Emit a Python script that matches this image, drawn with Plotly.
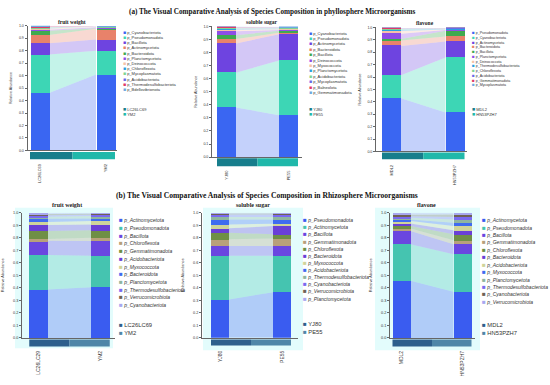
import plotly.graph_objects as go
import numpy as np

W, H = 550, 385

# ================= DATA =================
# (a) phyllosphere
a_fw_taxa = ["p_Cyanobacteriota", "p_Pseudomonadota", "p_Bacillota", "p_Actinomycetota",
             "p_Bacteroidota", "p_Planctomycetota", "p_Deinococcota", "p_Chloroflexota",
             "p_Mycoplasmatota", "p_Acidobacteriota", "p_Thermodesulfobacteriota", "p_Bdellovibrionota"]
a_fw_groups = ["LC26LC69", "YM2"]
a_fw_ticks = ["LC26LC69", "YM2"]
a_fw_left = [0.46, 0.31, 0.09, 0.065, 0.035, 0.008, 0.01, 0.004, 0.006, 0.003, 0.008, 0.002]
a_fw_right = [0.61, 0.19, 0.09, 0.085, 0.005, 0.008, 0.002, 0.001, 0.001, 0.002, 0.002, 0.001]

a_ss_taxa = ["p_Cyanobacteriota", "p_Pseudomonadota", "p_Actinomycetota", "p_Bacteroidota",
             "p_Bacillota", "p_Deinococcota", "p_Myxococcota", "p_Planctomycetota",
             "p_Acidobacteriota", "p_Mycoplasmatota", "p_Balneolota", "p_Gemmatimonadota"]
a_ss_groups = ["YJ80", "PE55"]
a_ss_ticks = ["YJ80", "PE55"]
a_ss_left = [0.38, 0.265, 0.225, 0.033, 0.03, 0.03, 0.012, 0.006, 0.006, 0.004, 0.004, 0.004]
a_ss_right = [0.32, 0.42, 0.2, 0.012, 0.015, 0.006, 0.006, 0.004, 0.004, 0.003, 0.002, 0.005]

a_fl_taxa = ["p_Pseudomonadota", "p_Cyanobacteriota", "p_Actinomycetota", "p_Bacteroidota",
             "p_Bacillota", "p_Planctomycetota", "p_Deinococcota", "p_Thermodesulfobacteriota",
             "p_Chloroflexota", "p_Acidobacteriota", "p_Gemmatimonadota", "p_Mycoplasmatota"]
a_fl_groups = ["MDL2", "HN53PZH7"]
a_fl_ticks = ["MDL2", "HN53PZH7"]
a_fl_left = [0.428, 0.186, 0.237, 0.043, 0.013, 0.042, 0.022, 0.012, 0.004, 0.003, 0.002, 0.003]
a_fl_right = [0.314, 0.444, 0.128, 0.04, 0.047, 0.006, 0.004, 0.004, 0.003, 0.002, 0.002, 0.002]

# (b) rhizosphere
b_fw_taxa = ["p_Actinomycetota", "p_Pseudomonadota", "p_Bacillota", "p_Chloroflexota",
             "p_Gemmatimonadota", "p_Acidobacteriota", "p_Myxococcota", "p_Bacteroidota",
             "p_Planctomycetota", "p_Thermodesulfobacteriota", "p_Verrucomicrobiota", "p_Cyanobacteriota"]
b_fw_groups = ["LC26LC69", "YM2"]
b_fw_ticks = ["LC26LC29", "YM2"]
b_fw_left = [0.387, 0.276, 0.113, 0.014, 0.065, 0.048, 0.023, 0.027, 0.015, 0.012, 0.01, 0.01]
b_fw_right = [0.405, 0.251, 0.119, 0.025, 0.06, 0.047, 0.027, 0.021, 0.019, 0.01, 0.008, 0.008]

b_ss_taxa = ["p_Pseudomonadota", "p_Actinomycetota", "p_Bacillota", "p_Gemmatimonadota",
             "p_Chloroflexota", "p_Bacteroidota", "p_Myxococcota", "p_Acidobacteriota",
             "p_Thermodesulfobacteriota", "p_Cyanobacteriota", "p_Verrucomicrobiota", "p_Planctomycetota"]
b_ss_groups = ["YJ80", "PE55"]
b_ss_ticks = ["YJ80", "PE55"]
b_ss_left = [0.307, 0.349, 0.079, 0.053, 0.053, 0.035, 0.031, 0.04, 0.019, 0.021, 0.007, 0.006]
b_ss_right = [0.365, 0.291, 0.079, 0.059, 0.034, 0.066, 0.019, 0.034, 0.019, 0.021, 0.007, 0.006]

b_fl_taxa = ["p_Actinomycetota", "p_Pseudomonadota", "p_Bacillota", "p_Gemmatimonadota",
             "p_Chloroflexota", "p_Bacteroidota", "p_Acidobacteriota", "p_Myxococcota",
             "p_Planctomycetota", "p_Thermodesulfobacteriota", "p_Cyanobacteriota", "p_Verrucomicrobiota"]
b_fl_groups = ["MDL2", "HN53PZH7"]
b_fl_ticks = ["MDL2", "HN53PZH7"]
b_fl_left = [0.458, 0.291, 0.105, 0.02, 0.02, 0.02, 0.02, 0.012, 0.014, 0.013, 0.012, 0.015]
b_fl_right = [0.37, 0.299, 0.08, 0.031, 0.048, 0.032, 0.034, 0.027, 0.026, 0.019, 0.021, 0.013]

titles_a = ["fruit weight", "soluble sugar", "flavone"]
titles_b = ["fruit weight", "soluble sugar", "flavone"]
main_title_a = "(a) The Visual Comparative Analysis of Species Composition in phyllosphere Microorganisms"
main_title_b = "(b) The Visual Comparative Analysis of Species Composition in Rhizosphere Microorganisms"

# ================= STYLE =================
colors_a = ["#3a66f2", "#3dd6b5", "#6e44e0", "#e8826a", "#3faa4f", "#8e4ee6",
            "#f5c2a8", "#2a9fe0", "#7ed493", "#6a6ae8", "#e03a6a", "#6fa8e0"]
colors_b = ["#3a5cf0", "#45c4b0", "#6a46e0", "#b8a07a", "#6f8f45", "#6a3fd6",
            "#cfd49a", "#3f6bf0", "#8fb5a0", "#7a6af0", "#6f6255", "#a8a8f0"]
group_colors_a = ["#177e8c", "#20b8aa"]
group_colors_b = ["#2e5f8c", "#4f86a8"]

datasets = [
    dict(taxa=a_fw_taxa, groups=a_fw_groups, ticks=a_fw_ticks, left=a_fw_left, right=a_fw_right, title=titles_a[0]),
    dict(taxa=a_ss_taxa, groups=a_ss_groups, ticks=a_ss_ticks, left=a_ss_left, right=a_ss_right, title=titles_a[1]),
    dict(taxa=a_fl_taxa, groups=a_fl_groups, ticks=a_fl_ticks, left=a_fl_left, right=a_fl_right, title=titles_a[2]),
    dict(taxa=b_fw_taxa, groups=b_fw_groups, ticks=b_fw_ticks, left=b_fw_left, right=b_fw_right, title=titles_b[0]),
    dict(taxa=b_ss_taxa, groups=b_ss_groups, ticks=b_ss_ticks, left=b_ss_left, right=b_ss_right, title=titles_b[1]),
    dict(taxa=b_fl_taxa, groups=b_fl_groups, ticks=b_fl_ticks, left=b_fl_left, right=b_fl_right, title=titles_b[2]),
]

# pixel geometry of each panel
top = dict(colors=colors_a, gcolors=group_colors_a, leg_fs=4, italic=False, grp_fs=4, grp_dy=5.2,
           grp_sq=5.2, grp_y0=108, tick_fs=4, ytick_fs=3.6, ytitle_fs=3.6, standoff=11, bg=None,
           title_fs=5.5, ystand=6)
bot = dict(colors=colors_b, gcolors=group_colors_b, leg_fs=5, italic=True, grp_fs=5.8, grp_dy=8.4,
           grp_sq=6.2, grp_y0=326, tick_fs=5, ytick_fs=3.8, ytitle_fs=3.8, standoff=10, title_fs=6,
           ystand=8)
panels = [
    dict(top, ax_l=27.5, ax_r=117, ybase=150, ytop=24, c1=39.5, c2=105.5, bw=19, strip=(151.5, 159),
         leg_x=121, leg_y0=30, leg_dy=5.27, tx=72, ty=20),
    dict(top, ax_l=212, ax_r=302, ybase=156.7, ytop=24.7, c1=226.5, c2=288.5, bw=19, strip=(158, 166),
         leg_x=307, leg_y0=31, leg_dy=5.45, tx=262, ty=20),
    dict(top, ax_l=376, ax_r=467, ybase=151, ytop=25.7, c1=391.5, c2=455, bw=19, strip=(152, 159),
         leg_x=470, leg_y0=31, leg_dy=4.8, leg_fs=3.6, tx=425, ty=21),
    dict(bot, ax_l=22, ax_r=115, ybase=339.5, ytop=213, c1=38.5, c2=100.5, bw=18.5, strip=(341, 348),
         leg_x=117, leg_y0=220, leg_dy=7.8, tx=67, ty=205, bg=(15, 208, 113, 350)),
    dict(bot, ax_l=202, ax_r=298, ybase=339.3, ytop=213, c1=220, c2=282, bw=18, strip=(341, 347),
         leg_x=301, leg_y0=220, leg_dy=7.2, grp_y0=325, tx=253, ty=205, bg=(203, 208, 303, 352)),
    dict(bot, ax_l=390, ax_r=475, ybase=339.5, ytop=213, c1=401.5, c2=462.5, bw=18, strip=(341, 348),
         leg_x=480, leg_y0=220, leg_dy=7.5, tx=426, ty=205, bg=(375, 208, 480, 352)),
]


def rgba(h, a):
    h = h.lstrip('#')
    r, g, b = int(h[0:2], 16), int(h[2:4], 16), int(h[4:6], 16)
    return f"rgba({r},{g},{b},{a})"


def px_x(p):
    return p / W


def px_y(p):
    return 1 - p / H


FONT = "Liberation Sans, Arial, sans-serif"
SERIF = "Liberation Serif, Times New Roman, serif"

fig = go.Figure()
shapes, annotations = [], []
layout = {}

for i, (P, D) in enumerate(zip(panels, datasets), start=1):
    sfx = "" if i == 1 else str(i)
    xa, ya = "x" + sfx, "y" + sfx
    unit = P["c2"] - P["c1"]
    bw = P["bw"] / unit
    left = np.array(D["left"])
    right = np.array(D["right"])
    lc = np.concatenate([[0], np.cumsum(left)])
    rc = np.concatenate([[0], np.cumsum(right)])
    xl, xr = bw / 2, 1 - bw / 2
    cols = P["colors"]

    if P.get("bg"):
        x0, y0, x1, y1 = P["bg"]
        shapes.append(dict(type="rect", xref="paper", yref="paper", x0=px_x(x0), x1=px_x(x1),
                           y0=px_y(y1), y1=px_y(y0), fillcolor="#e3fcfc", line=dict(width=0),
                           layer="below"))

    # connecting bands
    for k, name in enumerate(D["taxa"]):
        fig.add_trace(go.Scatter(
            x=[xl, xl, xr, xr, xl], y=[lc[k], lc[k + 1], rc[k + 1], rc[k], lc[k]],
            fill="toself", fillcolor=rgba(cols[k], 0.3), line=dict(width=0), mode="lines",
            xaxis=xa, yaxis=ya, showlegend=False, hoverinfo="skip"))
    # stacked bars
    for k, name in enumerate(D["taxa"]):
        fig.add_trace(go.Bar(
            x=[0, 1], y=[left[k], right[k]], width=bw, name=name,
            marker=dict(color=cols[k], line=dict(width=0)),
            xaxis=xa, yaxis=ya, showlegend=False))

    # group strip
    s0, s1 = P["strip"]
    for g, (gx0, gx1) in enumerate([(-bw / 2, 0.5), (0.5, 1 + bw / 2)]):
        shapes.append(dict(type="rect", xref=xa, yref="paper", x0=gx0, x1=gx1,
                           y0=px_y(s1), y1=px_y(s0), fillcolor=P["gcolors"][g], line=dict(width=0)))

    layout["xaxis" + sfx] = dict(
        domain=[px_x(P["ax_l"]), px_x(P["ax_r"])],
        range=[(P["ax_l"] - P["c1"]) / unit, (P["ax_r"] - P["c1"]) / unit],
        anchor=ya, tickvals=[0, 1], ticktext=D["ticks"], tickangle=-90,
        tickfont=dict(size=P["tick_fs"], color="#333", family=FONT), ticks="",
        showline=True, linecolor="#666", linewidth=0.8, showgrid=False, zeroline=False,
        ticklabelstandoff=P["standoff"], fixedrange=True)
    layout["yaxis" + sfx] = dict(
        domain=[px_y(P["ybase"]), px_y(P["ytop"])], range=[0, 1], anchor=xa,
        tick0=0, dtick=0.1, tickformat=".1f", ticks="outside", ticklen=2, tickwidth=0.6,
        tickcolor="#666", showline=True, linecolor="#666", linewidth=0.8,
        tickfont=dict(size=P["ytick_fs"], color="#333", family=FONT),
        title=dict(text="Relative Abundance", font=dict(size=P["ytitle_fs"], color="#333", family=FONT),
                   standoff=P["ystand"]),
        showgrid=False, zeroline=False, fixedrange=True)

    # subplot title
    annotations.append(dict(text=f"<b>{D['title']}</b>", x=px_x(P["tx"]), y=px_y(P["ty"]),
                            xref="paper", yref="paper", showarrow=False, xanchor="center",
                            yanchor="middle", font=dict(family=SERIF, size=P["title_fs"], color="#222")))

    # taxa legend
    sq = P["leg_fs"] * 1.25
    for k, name in enumerate(D["taxa"]):
        label = f"<i>{name}</i>" if P["italic"] else name
        annotations.append(dict(
            text=f'<span style="color:{cols[k]};font-size:{sq}px">■</span> {label}',
            x=px_x(P["leg_x"]), y=px_y(P["leg_y0"] + k * P["leg_dy"]), xref="paper", yref="paper",
            showarrow=False, xanchor="left", yanchor="middle",
            font=dict(family=FONT, size=P["leg_fs"], color="#333")))
    # group legend
    for g, name in enumerate(D["groups"]):
        annotations.append(dict(
            text=f'<span style="color:{P["gcolors"][g]};font-size:{P["grp_sq"]}px">■</span> {name}',
            x=px_x(P["leg_x"]), y=px_y(P["grp_y0"] + g * P["grp_dy"]), xref="paper", yref="paper",
            showarrow=False, xanchor="left", yanchor="middle",
            font=dict(family=FONT, size=P["grp_fs"], color="#333")))

annotations.append(dict(text=f"<b>{main_title_a}</b>", x=px_x(272), y=px_y(10), xref="paper",
                        yref="paper", showarrow=False, xanchor="center", yanchor="middle",
                        font=dict(family=SERIF, size=7.2, color="#111")))
annotations.append(dict(text=f"<b>{main_title_b}</b>", x=px_x(267), y=px_y(196), xref="paper",
                        yref="paper", showarrow=False, xanchor="center", yanchor="middle",
                        font=dict(family=SERIF, size=7.6, color="#111")))

fig.update_layout(
    width=W, height=H, autosize=False,
    margin=dict(l=0, r=0, t=0, b=0),
    paper_bgcolor="white", plot_bgcolor="rgba(0,0,0,0)",
    barmode="stack", bargap=0, showlegend=False,
    shapes=shapes, annotations=annotations,
    **layout)

fig.write_html("out.html", config={"displayModeBar": False},
               post_script="document.body.style.margin='0';document.body.style.overflow='hidden';")
